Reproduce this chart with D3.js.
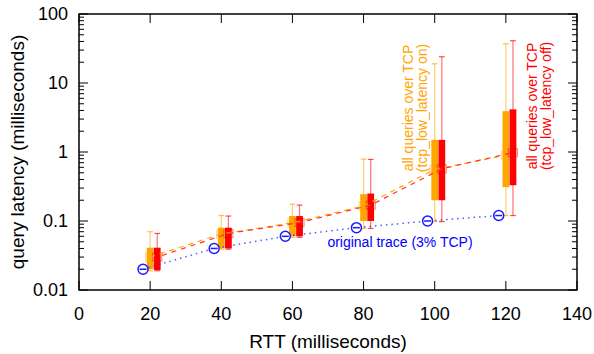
<!DOCTYPE html>
<html lang="en">
<head>
<meta charset="utf-8">
<script src="https://d3js.org/d3.v7.min.js"></script>
<style type="text/css">

body {
  margin: 0;
  font-family: "Liberation Sans", Arial, sans-serif;
  background-color: #ffffff;
}

.tick-label {
  font-size: 18px;
  fill: #000;
}

.axis-title {
  font-size: 19px;
  fill: #000;
}

.note {
  font-size: 14px;
}

</style>
</head>
<body>
<script type="text/javascript">

// RTT groups (milliseconds)
var rtt = [20, 40, 60, 80, 100, 120];

// all queries over TCP, tcp_low_latency on
var onMin = [0.019, 0.039, 0.058, 0.078, 0.098, 0.12];
var onQ1 = [0.02, 0.04, 0.06, 0.1, 0.2, 0.31];
var onMedian = [0.03, 0.065, 0.094, 0.165, 0.56, 0.9];
var onQ3 = [0.041, 0.08, 0.118, 0.245, 1.5, 3.9];
var onMax = [0.07, 0.12, 0.175, 0.79, 19, 37];

// all queries over TCP, tcp_low_latency off
var offMin = [0.019, 0.039, 0.058, 0.078, 0.098, 0.12];
var offQ1 = [0.0195, 0.04, 0.06, 0.1, 0.2, 0.33];
var offMedian = [0.03, 0.066, 0.095, 0.17, 0.57, 0.98];
var offQ3 = [0.041, 0.08, 0.118, 0.25, 1.5, 4.15];
var offMax = [0.066, 0.118, 0.17, 0.78, 24, 41];

// original trace (3% TCP)
var traceRtt = [18, 38, 58, 78, 98, 118];
var traceLatency = [0.02, 0.04, 0.06, 0.08, 0.1, 0.12];

// axis ticks
var xTicks = [0, 20, 40, 60, 80, 100, 120, 140];
var yTicks = [0.01, 0.1, 1, 10, 100];
var yTickLabels = ["0.01", "0.1", "1", "10", "100"];

var width = 594;
var height = 354;
var margin = {left: 79, right: 17, top: 14, bottom: 64};

var x = d3.scaleLinear()
  .domain([0, 140])
  .range([margin.left, width - margin.right]);

var y = d3.scaleLog()
  .domain([0.01, 100])
  .range([height - margin.bottom, margin.top]);

var svg = d3.select("body")
  .append("svg")
  .attr("width", width)
  .attr("height", height);

// minor ticks for the log axis
var minorTicks = [];
yTicks.slice(0, -1).forEach(function(t) {
  for (var k = 2; k < 10; k++) minorTicks.push(t * k);
});

var plotLeft = x(0), plotRight = x(140);
var plotTop = y(100), plotBottom = y(0.01);

var ticks = svg.append("g")
  .attr("stroke", "#000")
  .attr("stroke-width", 1);

// y ticks, inward on both sides
yTicks.forEach(function(t) {
  ticks.append("line").attr("x1", plotLeft).attr("x2", plotLeft + 9)
    .attr("y1", y(t)).attr("y2", y(t));
  ticks.append("line").attr("x1", plotRight).attr("x2", plotRight - 9)
    .attr("y1", y(t)).attr("y2", y(t));
});
minorTicks.forEach(function(t) {
  ticks.append("line").attr("x1", plotLeft).attr("x2", plotLeft + 5)
    .attr("y1", y(t)).attr("y2", y(t));
  ticks.append("line").attr("x1", plotRight).attr("x2", plotRight - 5)
    .attr("y1", y(t)).attr("y2", y(t));
});

// x ticks, inward on top and bottom
xTicks.forEach(function(t) {
  ticks.append("line").attr("x1", x(t)).attr("x2", x(t))
    .attr("y1", plotBottom).attr("y2", plotBottom - 9);
  ticks.append("line").attr("x1", x(t)).attr("x2", x(t))
    .attr("y1", plotTop).attr("y2", plotTop + 9);
});

// tick labels
svg.selectAll(".ylab")
  .data(yTicks)
  .enter()
  .append("text")
  .attr("class", "tick-label")
  .attr("x", plotLeft - 11)
  .attr("y", function(d) { return y(d); })
  .attr("dy", "0.35em")
  .attr("text-anchor", "end")
  .text(function(d, i) { return yTickLabels[i]; });

svg.selectAll(".xlab")
  .data(xTicks)
  .enter()
  .append("text")
  .attr("class", "tick-label")
  .attr("x", function(d) { return x(d); })
  .attr("y", plotBottom + 30)
  .attr("text-anchor", "middle")
  .text(function(d) { return d; });

// axis titles
svg.append("text")
  .attr("class", "axis-title")
  .attr("x", (plotLeft + plotRight) / 2)
  .attr("y", plotBottom + 58)
  .attr("text-anchor", "middle")
  .text("RTT (milliseconds)");

svg.append("text")
  .attr("class", "axis-title")
  .attr("transform", "translate(24," + ((plotTop + plotBottom) / 2) + ") rotate(-90)")
  .attr("text-anchor", "middle")
  .text("query latency (milliseconds)");

// one box series: whiskers, box, median marker
function drawSeries(dx, mins, q1s, meds, q3s, maxs, color) {
  var g = svg.append("g");
  var half = 0.95;
  var cap = 0.8;
  rtt.forEach(function(r, i) {
    var cx = x(r + dx);
    g.append("line")
      .attr("x1", cx).attr("x2", cx)
      .attr("y1", y(mins[i])).attr("y2", y(maxs[i]))
      .attr("stroke", color).attr("stroke-opacity", 0.55).attr("stroke-width", 1.2);
    [mins[i], maxs[i]].forEach(function(v) {
      g.append("line")
        .attr("x1", x(r + dx - cap)).attr("x2", x(r + dx + cap))
        .attr("y1", y(v)).attr("y2", y(v))
        .attr("stroke", color).attr("stroke-opacity", 0.7).attr("stroke-width", 1.2);
    });
    g.append("rect")
      .attr("x", x(r + dx - half))
      .attr("width", x(r + dx + half) - x(r + dx - half))
      .attr("y", y(q3s[i]))
      .attr("height", y(q1s[i]) - y(q3s[i]))
      .attr("fill", color);
    g.append("rect")
      .attr("x", cx - 4.5)
      .attr("y", y(meds[i]) - 4)
      .attr("width", 9)
      .attr("height", 8)
      .attr("fill", "none")
      .attr("stroke", color)
      .attr("stroke-opacity", 0.45)
      .attr("stroke-width", 1.2);
  });
  return g;
}

drawSeries(0, onMin, onQ1, onMedian, onQ3, onMax, "#ffa500");
drawSeries(2, offMin, offQ1, offMedian, offQ3, offMax, "#ff0000");

// dashed median lines
var onLine = d3.line()
  .x(function(d, i) { return x(rtt[i]); })
  .y(function(d) { return y(d); });
var offLine = d3.line()
  .x(function(d, i) { return x(rtt[i] + 2); })
  .y(function(d) { return y(d); });

svg.append("path")
  .attr("d", onLine(onMedian))
  .attr("fill", "none")
  .attr("stroke", "#ffa500")
  .attr("stroke-width", 1.2)
  .attr("stroke-dasharray", "5,5");

svg.append("path")
  .attr("d", offLine(offMedian))
  .attr("fill", "none")
  .attr("stroke", "#ff3030")
  .attr("stroke-width", 1.2)
  .attr("stroke-dasharray", "5,5")
  .attr("stroke-dashoffset", 5);

// original trace: dotted line with circle markers
var traceLine = d3.line()
  .x(function(d, i) { return x(traceRtt[i]); })
  .y(function(d) { return y(d); });

svg.append("path")
  .attr("d", traceLine(traceLatency))
  .attr("fill", "none")
  .attr("stroke", "#3030ff")
  .attr("stroke-opacity", 0.8)
  .attr("stroke-width", 1.5)
  .attr("stroke-dasharray", "1.5,4");

var marks = svg.selectAll(".trace")
  .data(traceLatency)
  .enter()
  .append("g")
  .attr("transform", function(d, i) { return "translate(" + x(traceRtt[i]) + "," + y(d) + ")"; });

marks.append("circle")
  .attr("r", 5)
  .attr("fill", "#fff")
  .attr("stroke", "#1a1aff")
  .attr("stroke-width", 1.5);

marks.append("line")
  .attr("x1", -3.5).attr("x2", 3.5)
  .attr("stroke", "#1a1aff")
  .attr("stroke-width", 1.5);

// frame
svg.append("rect")
  .attr("x", plotLeft)
  .attr("y", plotTop)
  .attr("width", plotRight - plotLeft)
  .attr("height", plotBottom - plotTop)
  .attr("fill", "none")
  .attr("stroke", "#000")
  .attr("stroke-width", 1.5);

// series labels
svg.append("text")
  .attr("class", "note")
  .attr("x", 400)
  .attr("y", 247)
  .attr("text-anchor", "middle")
  .attr("fill", "#0000ff")
  .text("original trace (3% TCP)");

function verticalNote(cx, cy, lines, color) {
  var t = svg.append("text")
    .attr("class", "note")
    .attr("transform", "translate(" + cx + "," + cy + ") rotate(-90)")
    .attr("text-anchor", "middle")
    .attr("fill", color);
  lines.forEach(function(s, i) {
    t.append("tspan")
      .attr("x", 0)
      .attr("dy", i === 0 ? 0 : 14)
      .text(s);
  });
}

verticalNote(413, 108, ["all queries over TCP", "(tcp_low_latency on)"], "#ffa500");
verticalNote(537, 106, ["all queries over TCP", "(tcp_low_latency off)"], "#ff0000");

</script>
</body>
</html>
